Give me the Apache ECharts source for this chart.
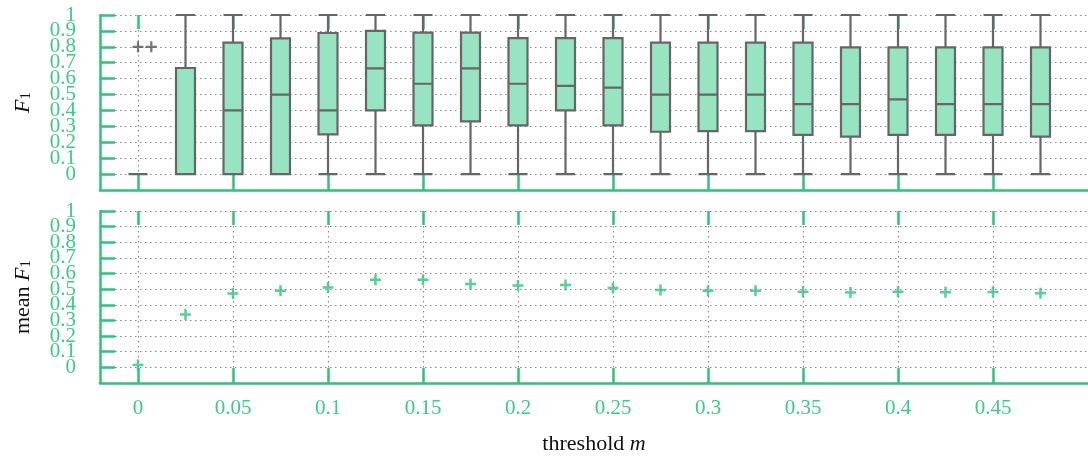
<!DOCTYPE html>
<html><head><meta charset="utf-8">
<script src="https://cdn.jsdelivr.net/npm/echarts@6/dist/echarts.min.js"></script>
<style>html,body{margin:0;padding:0;background:#fff}#c{width:1088px;height:456px}</style>
</head><body><div id="c"></div>
<script>
// ---- data ----
const thresholds = [0,0.025,0.05,0.075,0.1,0.125,0.15,0.175,0.2,0.225,0.25,0.275,0.3,0.325,0.35,0.375,0.4,0.425,0.45,0.475];
const whiskerLow  = [0,0,0,0,0,0,0,0,0,0,0,0,0,0,0,0,0,0,0,0];
const q1          = [0,0,0,0,0.25,0.40,0.306,0.331,0.306,0.40,0.306,0.266,0.27,0.27,0.247,0.235,0.247,0.247,0.247,0.235];
const median      = [0,0,0.40,0.50,0.40,0.665,0.568,0.665,0.568,0.555,0.543,0.50,0.50,0.50,0.44,0.44,0.47,0.44,0.44,0.44];
const q3          = [0,0.667,0.826,0.853,0.887,0.90,0.889,0.889,0.855,0.855,0.855,0.826,0.826,0.826,0.826,0.797,0.797,0.797,0.797,0.797];
const whiskerHigh = [0,1,1,1,1,1,1,1,1,1,1,1,1,1,1,1,1,1,1,1];
const outlierX = [0, 0.007];
const outlierY = [0.8, 0.8];
const meanF1 = [0.015,0.338,0.472,0.49,0.51,0.56,0.56,0.533,0.524,0.526,0.507,0.495,0.49,0.49,0.484,0.478,0.484,0.48,0.482,0.474];
const xTickValues = [0,0.05,0.1,0.15,0.2,0.25,0.3,0.35,0.4,0.45];
const yTickValues = [0,0.1,0.2,0.3,0.4,0.5,0.6,0.7,0.8,0.9,1];
const yLabelsEven = [0,0.2,0.4,0.6,0.8,1];
const yLabelsOdd  = [0.1,0.3,0.5,0.7,0.9];

// ---- styling ----
const GREEN = '#2ec27e';
const LABEL = '#3acb8b';
const FONT = '"Liberation Serif", "DejaVu Serif", serif';
const GRIDC = '#8a8a8a';

const boxData = thresholds.map((x,i)=>[x, whiskerLow[i], q1[i], median[i], q3[i], whiskerHigh[i]]);
const meanData = thresholds.map((x,i)=>[x, meanF1[i]]);
const outlierData = outlierX.map((x,i)=>[x, outlierY[i]]);

const plusPath = 'path://M0,5L10,5M5,0L5,10';
const nameRich = {
  n: {fontFamily: FONT, fontSize: 22, color: '#111', lineHeight: 26, verticalAlign: 'bottom'},
  i: {fontFamily: FONT, fontStyle: 'italic', fontSize: 22, color: '#111', lineHeight: 26, verticalAlign: 'bottom'},
  s: {fontFamily: FONT, fontSize: 15, color: '#111', lineHeight: 9, verticalAlign: 'bottom'}
};

function xAxisBottom(gridIndex, showLabels, name) {
  return {
    type: 'value', gridIndex, position: 'bottom', min: -0.02, max: 0.5,
    axisLine: {show: true, onZero: false, lineStyle: {color: GREEN, width: 2.5}},
    axisTick: {show: true, inside: true, length: 15, customValues: xTickValues, lineStyle: {color: GREEN, width: 2.5}},
    axisLabel: {show: showLabels, customValues: xTickValues, margin: 15, color: LABEL, fontFamily: FONT, fontSize: 21,
      formatter: v => String(+v.toFixed(3))},
    splitLine: {show: true, lineStyle: {color: GRIDC, width: 1.2, type: [1.5, 3.5]}},
    name: name || '', nameLocation: 'middle', nameGap: 46,
    nameTextStyle: {rich: nameRich}
  };
}
function xAxisTop(gridIndex) {
  return {
    type: 'value', gridIndex, position: 'top', min: -0.02, max: 0.5,
    axisLine: {show: true, onZero: false, lineStyle: {color: GREEN, width: 0, opacity: 0}},
    axisTick: {show: true, inside: true, length: 14, customValues: xTickValues, lineStyle: {color: GREEN, width: 2.5}},
    axisLabel: {show: false, customValues: xTickValues},
    splitLine: {show: false}
  };
}
function yAxis(gridIndex, name) {
  return {
    type: 'value', gridIndex, position: 'left', min: -0.1, max: 1, interval: 0.1,
    axisLine: {show: true, onZero: false, lineStyle: {color: GREEN, width: 2.5}},
    axisTick: {show: true, inside: true, length: 15, customValues: yTickValues, lineStyle: {color: GREEN, width: 2.5}},
    axisLabel: {show: true, customValues: yLabelsEven, margin: 24, color: LABEL, fontFamily: FONT, fontSize: 21,
      formatter: v => String(+v.toFixed(2))},
    splitLine: {show: true, lineStyle: {color: GRIDC, width: 1.2, type: [1.5, 3.5]}},
    name, nameLocation: 'middle', nameRotate: 90, nameGap: 66,
    nameTextStyle: {rich: nameRich}
  };
}
function yAxisOddLabels(gridIndex) {
  return {
    type: 'value', gridIndex, position: 'left', offset: 0, min: -0.1, max: 1, interval: 0.1,
    axisLine: {show: true, onZero: false, lineStyle: {color: GREEN, width: 0, opacity: 0}},
    axisTick: {show: false, customValues: yLabelsOdd},
    axisLabel: {show: true, customValues: yLabelsOdd, margin: 24, color: LABEL, fontFamily: FONT, fontSize: 21,
      formatter: v => String(+v.toFixed(2))},
    splitLine: {show: false}
  };
}

const chart = echarts.init(document.getElementById('c'), null, {renderer: 'canvas'});
chart.setOption({
  animation: false,
  backgroundColor: '#fff',
  grid: [
    {left: 100, top: 15, width: 993, height: 175},
    {left: 100, top: 211, width: 993, height: 175}
  ],
  xAxis: [xAxisBottom(0, false), xAxisTop(0), xAxisBottom(1, true, '{n|threshold }{i|m}'), xAxisTop(1)],
  yAxis: [yAxis(0, '{i|F}{s|1}'), yAxis(1, '{n|mean }{i|F}{s|1}'), yAxisOddLabels(0), yAxisOddLabels(1)],
  series: [
    {
      type: 'boxplot', layout: 'horizontal', xAxisIndex: 0, yAxisIndex: 0,
      data: boxData, boxWidth: [19, 19],
      itemStyle: {color: '#97e4c3', borderColor: '#666666', borderWidth: 2.2},
      z: 3
    },
    {
      type: 'scatter', xAxisIndex: 0, yAxisIndex: 0, data: outlierData,
      symbol: plusPath, symbolSize: 11,
      itemStyle: {color: '#555', borderColor: '#555', borderWidth: 2.2}, z: 4
    },
    {
      type: 'scatter', xAxisIndex: 2, yAxisIndex: 1, data: meanData,
      symbol: plusPath, symbolSize: 11,
      itemStyle: {color: GREEN, borderColor: GREEN, borderWidth: 2.5}, z: 4
    }
  ]
});
</script>
</body></html>
